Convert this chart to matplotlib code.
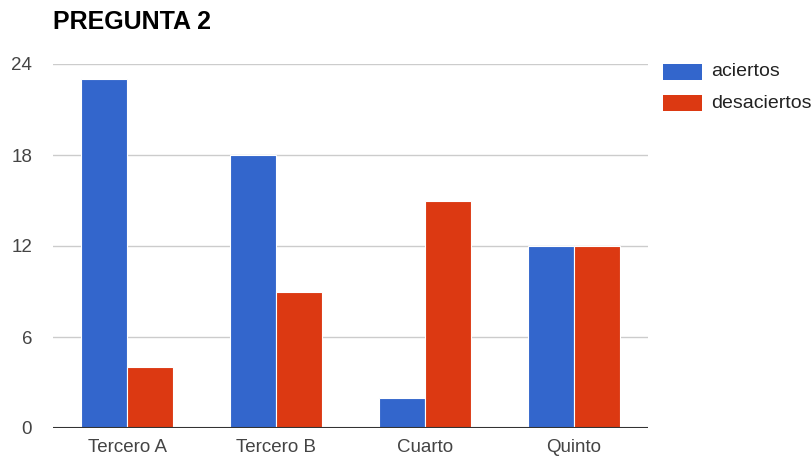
import numpy as np
import matplotlib.pyplot as plt
from matplotlib.patches import Rectangle

plt.rcParams['font.family'] = ['Liberation Sans', 'DejaVu Sans']

categories = ['Tercero A', 'Tercero B', 'Cuarto', 'Quinto']
aciertos = [23, 18, 2, 12]
desaciertos = [4, 9, 15, 12]
series_names = ['aciertos', 'desaciertos']
colors = ['#3366CC', '#DC3912']
yticks = [0, 6, 12, 18, 24]

W, H = 811, 458
fig = plt.figure(figsize=(W / 100, H / 100), dpi=100)
ax = fig.add_axes([53 / W, 30 / H, (648 - 53) / W, (428 - 64) / H])

x = np.arange(len(categories))
bw = 0.31
for i, (vals, col) in enumerate(zip([aciertos, desaciertos], colors)):
    ax.bar(x + (i - 0.5) * bw, vals, width=bw, color=col,
           edgecolor='white', linewidth=0.8, zorder=3)

ax.set_xlim(-0.5, len(categories) - 0.5)
ax.set_ylim(0, 24)
ax.set_yticks(yticks)
ax.set_yticklabels([str(t) for t in yticks])
ax.set_xticks(x)
ax.set_xticklabels(categories)
ax.grid(axis='y', color='#CCCCCC', linewidth=1, zorder=0)
ax.axhline(0, color='#333333', linewidth=1.5, zorder=4)
for s in ax.spines.values():
    s.set_visible(False)
ax.tick_params(length=0, labelsize=13.5, colors='#444444')
ax.tick_params(axis='y', pad=15)
ax.tick_params(axis='x', pad=8)
for lbl in ax.get_yticklabels():
    lbl.set_horizontalalignment('right')

fig.text(53 / W, 1 - 22 / H, 'PREGUNTA 2', fontsize=18, fontweight='bold',
         color='#000000', va='center', ha='left')

# legend drawn as plain figure patches
for k, (name, col) in enumerate(zip(series_names, colors)):
    yc = 72 + k * 31
    fig.patches.append(Rectangle((663 / W, 1 - (yc + 8) / H), 39 / W, 16 / H,
                                 transform=fig.transFigure, facecolor=col,
                                 edgecolor='none'))
    fig.text(711 / W, 1 - yc / H, name, fontsize=14, color='#222222',
             va='center', ha='left')

fig.savefig('out.png', dpi=100)
